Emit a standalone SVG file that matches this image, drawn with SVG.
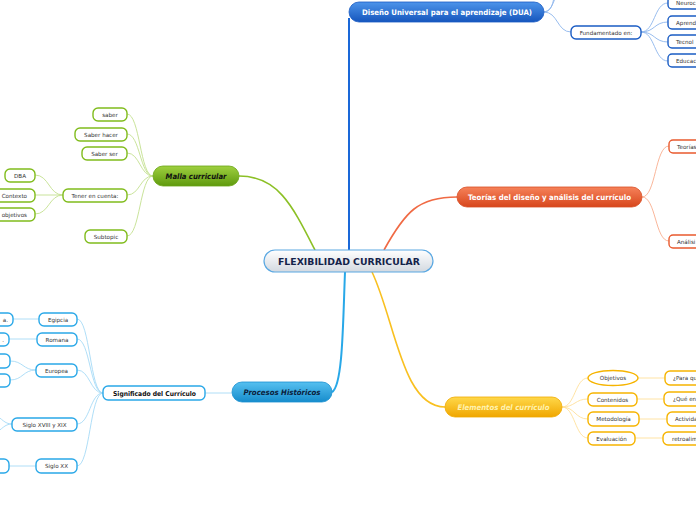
<svg xmlns="http://www.w3.org/2000/svg" width="696" height="520" viewBox="0 0 696 520">
<defs>
<linearGradient id="gCenter" x1="0" y1="0" x2="0" y2="1"><stop offset="0" stop-color="#ffffff"/><stop offset="1" stop-color="#d3d9e0"/></linearGradient>
<linearGradient id="gBlue" x1="0" y1="0" x2="0" y2="1"><stop offset="0" stop-color="#4d94ea"/><stop offset="1" stop-color="#1656bd"/></linearGradient>
<linearGradient id="gGreen" x1="0" y1="0" x2="0" y2="1"><stop offset="0" stop-color="#9fd040"/><stop offset="1" stop-color="#5f9a0e"/></linearGradient>
<linearGradient id="gOrange" x1="0" y1="0" x2="0" y2="1"><stop offset="0" stop-color="#f6825a"/><stop offset="1" stop-color="#d7461c"/></linearGradient>
<linearGradient id="gYellow" x1="0" y1="0" x2="0" y2="1"><stop offset="0" stop-color="#ffd84a"/><stop offset="1" stop-color="#f0a600"/></linearGradient>
<linearGradient id="gSky" x1="0" y1="0" x2="0" y2="1"><stop offset="0" stop-color="#56c0f0"/><stop offset="1" stop-color="#168ccc"/></linearGradient>
</defs>
<style>
text{font-family:"DejaVu Sans","Liberation Sans",sans-serif;}
.sm{font-size:5.6px;fill:#333;text-anchor:middle;}
.smL{font-size:5.6px;fill:#333;}
.smE{font-size:5.6px;fill:#333;text-anchor:end;}
.main{font-weight:bold;text-anchor:middle;}
.cb{fill:#fff;stroke:#1a5cc4;stroke-width:1.4;}
.cg{fill:#fff;stroke:#80bc1c;stroke-width:1.4;}
.co{fill:#fff;stroke:#e95a2e;stroke-width:1.4;}
.cy{fill:#fff;stroke:#f6b400;stroke-width:1.4;}
.cs{fill:#fff;stroke:#2aa8e8;stroke-width:1.4;}
.lb{fill:none;stroke:#8db6ec;stroke-width:0.9;}
.lg{fill:none;stroke:#c3e08e;stroke-width:0.9;}
.lo{fill:none;stroke:#f8ae8e;stroke-width:0.9;}
.ly{fill:none;stroke:#ffe09a;stroke-width:0.9;}
.ls{fill:none;stroke:#a6daf6;stroke-width:0.9;}
</style>
<g id="connectors">
<path d="M349,250 L349,18" fill="none" stroke="#1a68d8" stroke-width="2"/>
<path d="M315,250 C292,205 278,176 239,176" fill="none" stroke="#8cc026" stroke-width="1.6"/>
<path d="M384,250 C405,212 418,197 457,197" fill="none" stroke="#f06a44" stroke-width="1.6"/>
<path d="M372,272 C395,320 402,407 445,407" fill="none" stroke="#f9c020" stroke-width="1.6"/>
<path d="M345,272 C343,320 343,386 332,392" fill="none" stroke="#28a8e8" stroke-width="2"/>
<path d="M544,12 C552,12 552,2 558,-6" class="lb"/>
<path d="M544,12 C554,10 553,0 556,-14" class="lb"/>
<path d="M544,12 C558,12 557,32 571,32" class="lb"/>
<path d="M641,32 C655,32 654,3 668,3" class="lb"/>
<path d="M641,32 C655,32 654,22 668,22" class="lb"/>
<path d="M641,32 C655,32 654,42 668,42" class="lb"/>
<path d="M641,32 C655,32 654,61 668,61" class="lb"/>
<path d="M153,176 C140,176 140,114 127,114" class="lg"/>
<path d="M153,176 C140,176 140,134 127,134" class="lg"/>
<path d="M153,176 C140,176 140,153 127,153" class="lg"/>
<path d="M153,176 C140,176 140,195 127,195" class="lg"/>
<path d="M153,176 C140,176 140,236 127,236" class="lg"/>
<path d="M63,195 C49,195 49,175 35,175" class="lg"/>
<path d="M63,195 L35,195" class="lg"/>
<path d="M63,195 C49,195 49,214 35,214" class="lg"/>
<path d="M642,197 C656,197 655,146 669,146" class="lo"/>
<path d="M642,197 C656,197 655,241 669,241" class="lo"/>
<path d="M562,407 C575,407 575,378 588,378" class="ly"/>
<path d="M562,407 C575,407 575,399 588,399" class="ly"/>
<path d="M562,407 C575,407 575,419 588,419" class="ly"/>
<path d="M562,407 C575,407 575,438 588,438" class="ly"/>
<path d="M638,378 L665,378" class="ly" stroke-width="1.8"/>
<path d="M637,399 L664,399" class="ly" stroke-width="1.8"/>
<path d="M639,419 L667,419" class="ly" stroke-width="1.8"/>
<path d="M635,438 L663,438" class="ly" stroke-width="1.8"/>
<path d="M232,393 L205,393" class="ls" stroke-width="2"/>
<path d="M103,393 C90,393 90,319 77,319" class="ls"/>
<path d="M103,393 C90,393 90,339 77,339" class="ls"/>
<path d="M103,393 C90,393 90,370 77,370" class="ls"/>
<path d="M103,393 C90,393 90,424 77,424" class="ls"/>
<path d="M103,393 C90,393 90,466 77,466" class="ls"/>
<path d="M39,319 L13,319" class="ls" stroke-width="1.6"/>
<path d="M37,339 L9,339" class="ls"/>
<path d="M36,370 C23,370 23,361 10,361" class="ls"/>
<path d="M36,370 C23,370 23,380 10,380" class="ls"/>
<path d="M12,424 C4,424 2,418 -4,416" class="ls"/>
<path d="M12,424 C4,424 2,430 -4,432" class="ls"/>
<path d="M36,466 L9,466" class="ls" stroke-width="1.6"/>
</g>
<g id="center">
<rect x="264" y="250" width="169" height="22" rx="11" fill="url(#gCenter)" stroke="#5aa8e2" stroke-width="1.2"/>
<text x="349" y="265" class="main" font-size="8.6" fill="#14234a" textLength="142" lengthAdjust="spacingAndGlyphs">FLEXIBILIDAD CURRICULAR</text>
</g>
<g id="dua">
<rect x="349" y="2" width="195" height="20" rx="10" fill="url(#gBlue)" stroke="#1a5cc4" stroke-width="0.8"/>
<text x="447" y="15" class="main" font-size="7.6" fill="#ffffff" textLength="170" lengthAdjust="spacingAndGlyphs">Diseño Universal para el aprendizaje (DUA)</text>
</g>
<g id="fundamentado">
<rect x="571" y="26" width="70" height="13" rx="5" class="cb"/>
<text x="606" y="34.5" class="sm">Fundamentado en:</text>
</g>
<g id="neuro"><rect x="668" y="-3" width="40" height="12" rx="4" class="cb"/><text x="676" y="5" class="smL">Neuroc</text></g>
<g id="aprend"><rect x="668" y="16" width="40" height="13" rx="4" class="cb"/><text x="676" y="24.5" class="smL">Aprend</text></g>
<g id="tecno"><rect x="668" y="35" width="40" height="13" rx="4" class="cb"/><text x="676" y="43.5" class="smL">Tecnol</text></g>
<g id="educ"><rect x="668" y="54" width="40" height="13" rx="4" class="cb"/><text x="676" y="62.5" class="smL">Educac</text></g>
<g id="malla">
<rect x="153" y="166" width="86" height="20" rx="10" fill="url(#gGreen)" stroke="#6aa414" stroke-width="0.8"/>
<text x="196" y="179" class="main" font-size="7.6" font-style="italic" fill="#111" textLength="61" lengthAdjust="spacingAndGlyphs">Malla curricular</text>
</g>
<g id="saber"><rect x="93" y="108" width="34" height="13" rx="5" class="cg"/><text x="110" y="116.5" class="sm">saber</text></g>
<g id="saberhacer"><rect x="75" y="128" width="52" height="13" rx="5" class="cg"/><text x="101" y="136.5" class="sm">Saber hacer</text></g>
<g id="saberser"><rect x="82" y="147" width="45" height="13" rx="5" class="cg"/><text x="104.5" y="155.5" class="sm">Saber ser</text></g>
<g id="tener"><rect x="63" y="189" width="64" height="13" rx="5" class="cg"/><text x="95" y="197.5" class="sm">Tener en cuenta:</text></g>
<g id="subtopic"><rect x="85" y="230" width="42" height="13" rx="5" class="cg"/><text x="106" y="238.5" class="sm">Subtopic</text></g>
<g id="dba"><rect x="5" y="169" width="30" height="13" rx="5" class="cg"/><text x="20" y="177.5" class="sm">DBA</text></g>
<g id="contexto"><rect x="-12" y="189" width="47" height="13" rx="5" class="cg"/><text x="27" y="197.5" class="smE">Contexto</text></g>
<g id="objetivosm"><rect x="-20" y="208" width="55" height="13" rx="5" class="cg"/><text x="27" y="216.5" class="smE">objetivos</text></g>
<g id="teorias">
<rect x="457" y="187" width="185" height="20" rx="10" fill="url(#gOrange)" stroke="#d84e24" stroke-width="0.8"/>
<text x="549.5" y="200" class="main" font-size="7.6" fill="#ffffff" textLength="163" lengthAdjust="spacingAndGlyphs">Teorías del diseño y análisis del currículo</text>
</g>
<g id="teorias1"><rect x="669" y="140" width="40" height="13" rx="4" class="co"/><text x="677" y="148.5" class="smL">Teorías</text></g>
<g id="analisis"><rect x="669" y="235" width="40" height="13" rx="4" class="co"/><text x="677" y="243.5" class="smL">Análisi</text></g>
<g id="elementos">
<rect x="445" y="397" width="117" height="20" rx="10" fill="url(#gYellow)" stroke="#f0aa00" stroke-width="0.8"/>
<text x="503.5" y="410" class="main" font-size="7.6" font-style="italic" fill="#fff3b0" textLength="92" lengthAdjust="spacingAndGlyphs">Elementos del currículo</text>
</g>
<g id="objetivos"><ellipse cx="613" cy="378" rx="25" ry="7.5" class="cy"/><text x="613" y="380" class="sm">Objetivos</text></g>
<g id="contenidos"><rect x="588" y="393" width="49" height="13" rx="5" class="cy"/><text x="612.5" y="401.5" class="sm">Contenidos</text></g>
<g id="metodologia"><rect x="588" y="412" width="51" height="14" rx="5" class="cy"/><text x="613.5" y="421" class="sm">Metodología</text></g>
<g id="evaluacion"><rect x="588" y="432" width="47" height="13" rx="5" class="cy"/><text x="611.5" y="440.5" class="sm">Evaluación</text></g>
<g id="paraque"><rect x="665" y="371" width="45" height="14" rx="5" class="cy"/><text x="673" y="380" class="smL">¿Para qu</text></g>
<g id="queen"><rect x="664" y="392" width="45" height="14" rx="5" class="cy"/><text x="673" y="401" class="smL">¿Qué en</text></g>
<g id="activ"><rect x="667" y="412" width="45" height="14" rx="5" class="cy"/><text x="675" y="421" class="smL">Activida</text></g>
<g id="retro"><rect x="663" y="432" width="45" height="13" rx="5" class="cy"/><text x="672" y="440.5" class="smL">retroalim</text></g>
<g id="procesos">
<rect x="232" y="382" width="100" height="20" rx="10" fill="url(#gSky)" stroke="#1a90d0" stroke-width="0.8"/>
<text x="282" y="395" class="main" font-size="7.6" font-style="italic" fill="#0b1e3c" textLength="77" lengthAdjust="spacingAndGlyphs">Procesos Históricos</text>
</g>
<g id="significado">
<rect x="103" y="386" width="102" height="14" rx="5" class="cs"/>
<text x="154.5" y="395.5" class="main" font-size="6.6" fill="#111" textLength="83" lengthAdjust="spacingAndGlyphs">Significado del Currículo</text>
</g>
<g id="egipcia"><rect x="39" y="313" width="38" height="13" rx="5" class="cs"/><text x="58" y="321.5" class="sm">Egipcia</text></g>
<g id="romana"><rect x="37" y="333" width="40" height="13" rx="5" class="cs"/><text x="57" y="341.5" class="sm">Romana</text></g>
<g id="europea"><rect x="36" y="364" width="41" height="13" rx="5" class="cs"/><text x="56.5" y="372.5" class="sm">Europea</text></g>
<g id="siglo1819"><rect x="12" y="418" width="65" height="13" rx="5" class="cs"/><text x="44.5" y="426.5" class="sm">Siglo XVIII y XIX</text></g>
<g id="siglo20"><rect x="36" y="459" width="41" height="14" rx="5" class="cs"/><text x="56.5" y="468" class="sm">Siglo XX</text></g>
<g id="egipcia1"><rect x="-30" y="313" width="43" height="13" rx="5" class="cs"/><text x="8" y="321.5" class="smE">a.</text></g>
<g id="romana1"><rect x="-30" y="333" width="39" height="13" rx="5" class="cs"/><text x="4" y="341.5" class="smE">.</text></g>
<g id="europea1"><rect x="-30" y="354" width="40" height="14" rx="5" class="cs"/></g>
<g id="europea2"><rect x="-30" y="374" width="40" height="13" rx="5" class="cs"/></g>
<g id="siglo20a"><rect x="-30" y="459" width="39" height="14" rx="5" class="cs"/></g>
</svg>
